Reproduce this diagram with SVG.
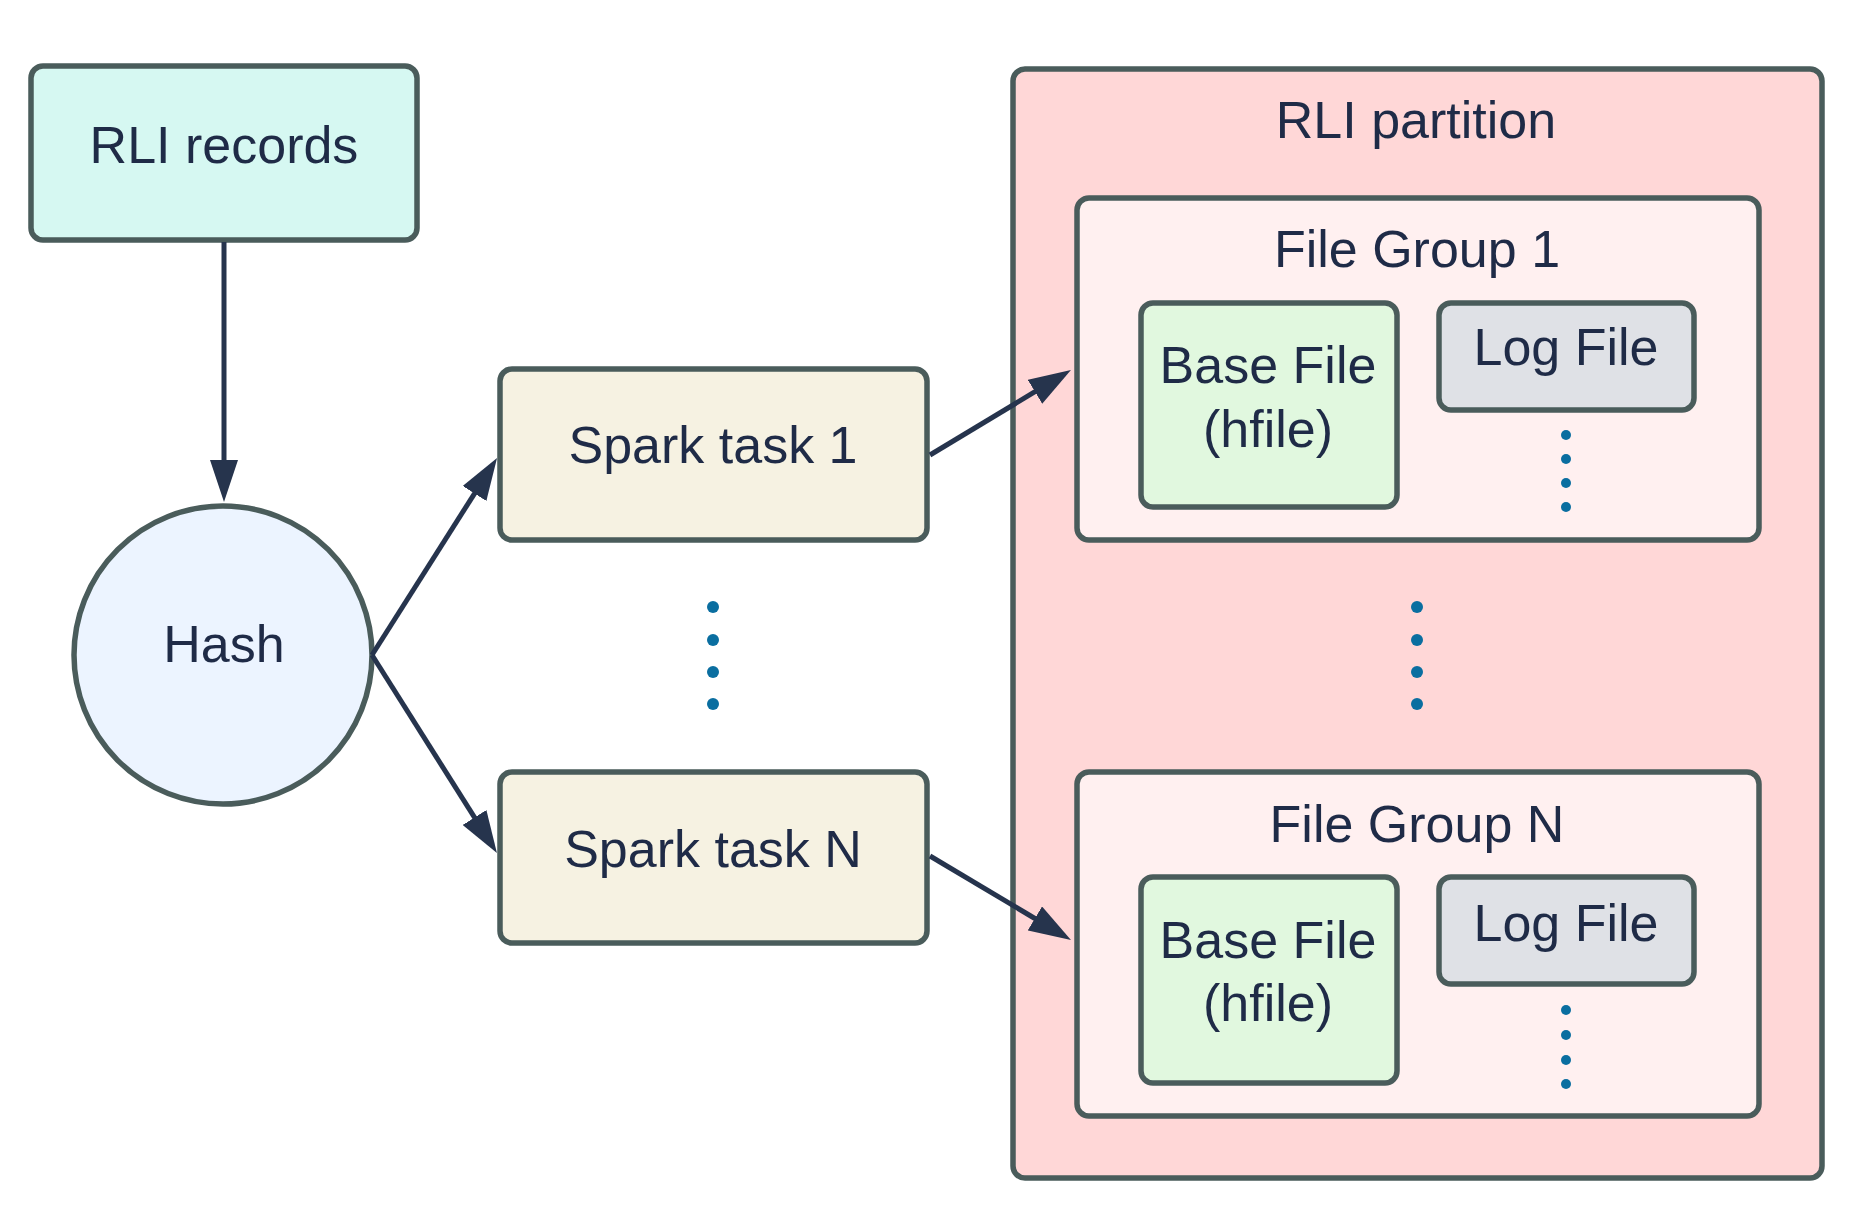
<svg xmlns="http://www.w3.org/2000/svg" width="1864" height="1218" viewBox="0 0 1864 1218">
<style>
  .box { stroke: #4a5c5b; stroke-width: 5.5; }
  .t { font-family: "Liberation Sans", Arial, sans-serif; font-size: 52px; fill: #1f2b47; text-anchor: middle; }
  .conn { stroke: #26344d; stroke-width: 5; fill: none; marker-end: url(#ah); }
  .dot { fill: #0a6ea0; }
</style>
<defs>
  <marker id="ah" viewBox="0 0 42 28" refX="2" refY="14" markerUnits="userSpaceOnUse" markerWidth="42" markerHeight="28" orient="auto">
    <path d="M0,0 L42,14 L0,28 z" fill="#26344d"/>
  </marker>
</defs>
<rect width="1864" height="1218" fill="#ffffff"/>

<g id="rli-partition">
  <rect class="box" x="1013" y="69" width="809" height="1109" rx="12" fill="#ffd7d7"/>
  <text class="t" x="1416" y="138">RLI partition</text>
  <circle class="dot" cx="1417" cy="607" r="6"/>
  <circle class="dot" cx="1417" cy="640" r="6"/>
  <circle class="dot" cx="1417" cy="672" r="6"/>
  <circle class="dot" cx="1417" cy="704" r="6"/>
</g>

<g id="file-group-1">
  <rect class="box" x="1077" y="198" width="682" height="342" rx="12" fill="#fff0f0"/>
  <text class="t" x="1417" y="267">File Group 1</text>
  <circle class="dot" cx="1566" cy="435" r="5"/>
  <circle class="dot" cx="1566" cy="459" r="5"/>
  <circle class="dot" cx="1566" cy="483" r="5"/>
  <circle class="dot" cx="1566" cy="507" r="5"/>
</g>
<g id="base-file-1">
  <rect class="box" x="1141" y="303" width="256" height="204" rx="12" fill="#e1f8df"/>
  <text class="t" x="1268" y="383">Base File</text>
  <text class="t" x="1268" y="447">(hfile)</text>
</g>
<g id="log-file-1">
  <rect class="box" x="1439" y="303" width="255" height="107" rx="12" fill="#dfe1e6"/>
  <text class="t" x="1566" y="365">Log File</text>
</g>

<g id="file-group-n">
  <rect class="box" x="1077" y="772" width="682" height="344" rx="12" fill="#fff0f0"/>
  <text class="t" x="1417" y="842">File Group N</text>
  <circle class="dot" cx="1566" cy="1010" r="5"/>
  <circle class="dot" cx="1566" cy="1035" r="5"/>
  <circle class="dot" cx="1566" cy="1060" r="5"/>
  <circle class="dot" cx="1566" cy="1084" r="5"/>
</g>
<g id="base-file-n">
  <rect class="box" x="1141" y="877" width="256" height="206" rx="12" fill="#e1f8df"/>
  <text class="t" x="1268" y="958">Base File</text>
  <text class="t" x="1268" y="1021">(hfile)</text>
</g>
<g id="log-file-n">
  <rect class="box" x="1439" y="877" width="255" height="107" rx="12" fill="#dfe1e6"/>
  <text class="t" x="1566" y="941">Log File</text>
</g>

<g id="rli-records">
  <rect class="box" x="31" y="66" width="386" height="174" rx="12" fill="#d6f8f2"/>
  <text class="t" x="224" y="163">RLI records</text>
</g>

<g id="hash">
  <circle class="box" cx="223" cy="655" r="149" fill="#ecf4ff"/>
  <text class="t" x="224" y="662">Hash</text>
</g>

<g id="spark-task-1">
  <rect class="box" x="500" y="369" width="427" height="171" rx="12" fill="#f6f2e2"/>
  <text class="t" x="713" y="463">Spark task 1</text>
</g>

<g id="spark-dots">
  <circle class="dot" cx="713" cy="607" r="6"/>
  <circle class="dot" cx="713" cy="640" r="6"/>
  <circle class="dot" cx="713" cy="672" r="6"/>
  <circle class="dot" cx="713" cy="704" r="6"/>
</g>

<g id="spark-task-n">
  <rect class="box" x="500" y="772" width="427" height="171" rx="12" fill="#f6f2e2"/>
  <text class="t" x="713" y="867">Spark task N</text>
</g>

<g id="connectors">
  <path class="conn" d="M224,242 L224,462"/>
  <path class="conn" d="M372,655 L475.6,491.8"/>
  <path class="conn" d="M372,655 L475.6,819.2"/>
  <path class="conn" d="M930,455 L1036.7,390.7"/>
  <path class="conn" d="M930,856 L1036.6,919.5"/>
</g>
</svg>
